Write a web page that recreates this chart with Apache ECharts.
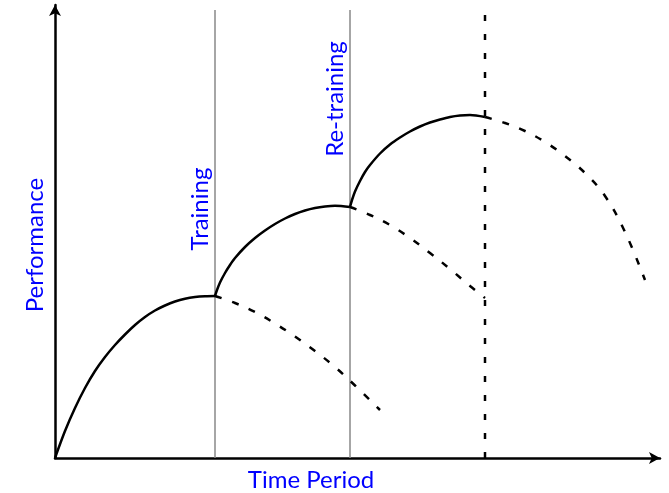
<!DOCTYPE html>
<html><head><meta charset="utf-8">
<script src="https://cdn.jsdelivr.net/npm/echarts@6/dist/echarts.min.js"></script>
<style>html,body{margin:0;padding:0;background:#fff}#c{width:669px;height:493px}</style>
</head><body><div id="c"></div>
<script>
// Values in arbitrary units (time vs performance)
const initialCurve = [[0,0],[10,27],[20,50],[30,70],[40,87],[50,101],[60,113],[70,123.5],[80,133],[90,141],[100,147.5],[110,152.5],[120,156.5],[130,159.3],[140,161],[150,161.8],[160,162]];
const trainingCurve = [[160,162],[162,168],[165,175.5],[170,185],[175,193],[180,200],[190,211],[200,220],[210,227.5],[220,234],[230,239.5],[240,244],[250,247.5],[260,250],[270,251.5],[280,252.2],[295,251]];
const retrainingCurve = [[295,251],[297,258],[300,266.5],[305,277],[310,286],[315,293],[325,304.5],[335,313.5],[345,320.5],[355,326.5],[365,331.5],[375,335.5],[385,338.5],[395,341],[405,342.5],[415,343],[430,341]];
const decay1 = [[160,162],[180,155],[200,146],[220,134.5],[240,121.5],[260,107],[280,91],[300,72.5],[325,48]];
const decay2 = [[295,251],[315,243],[335,233],[355,220],[375,205],[395,189],[415,172],[430,160]];
const decay3 = [[430,341],[450,335],[470,327],[490,316],[510,302],[530,285],[550,262],[570,226],[590,178]];
const trainingX = 160, retrainingX = 295, deployX = 430;
const lineTop = 448;
const labels = {x:'Time Period', y:'Performance', training:'Training', retraining:'Re-training'};

const chart = echarts.init(document.getElementById('c'));
const font = 'Lato, "Open Sans", sans-serif';
const blue = '#0000ff';
function solid(d){return {type:'line',data:d,smooth:0.3,symbol:'none',lineStyle:{color:'#000',width:2.5},z:5};}
function dashed(d){return {type:'line',data:d,smooth:0.4,symbol:'none',lineStyle:{color:'#000',width:2.5,type:[7,11]},z:5};}
function vline(x,color,width,type){return {type:'line',data:[[x,0],[x,lineTop]],symbol:'none',lineStyle:{color:color,width:width,type:type},z:3};}
chart.setOption({
  animation:false,
  grid:{left:55,right:9,top:5,bottom:35,outerBoundsMode:'none',containLabel:false},
  xAxis:{type:'value',min:0,max:605,
    axisLine:{show:true,symbol:['none','arrow'],symbolSize:[9,11],lineStyle:{color:'#000',width:2.5}},
    axisTick:{show:false},axisLabel:{show:false},splitLine:{show:false}},
  yAxis:{type:'value',min:0,max:453,
    axisLine:{show:true,symbol:['none','arrow'],symbolSize:[9,11],lineStyle:{color:'#000',width:2.5}},
    axisTick:{show:false},axisLabel:{show:false},splitLine:{show:false}},
  series:[
    vline(trainingX,'#888',1.5,'solid'),
    vline(retrainingX,'#888',1.5,'solid'),
    vline(deployX,'#000',2.5,[6,13]),
    solid(initialCurve),solid(trainingCurve),solid(retrainingCurve),
    dashed(decay1),dashed(decay2),dashed(decay3)
  ]
});
const p1 = chart.convertToPixel({gridIndex:0},[145,249]);
const p2 = chart.convertToPixel({gridIndex:0},[280,359]);
const px = chart.convertToPixel({gridIndex:0},[256,0]);
const py = chart.convertToPixel({gridIndex:0},[0,213]);
function txt(t,x,y,rot){return {type:'text',x:x,y:y,rotation:rot?Math.PI/2:0,style:{text:t,fill:blue,font:'24px '+font,align:'center',verticalAlign:'middle'}};}
chart.setOption({graphic:[
  txt(labels.training,p1[0],p1[1],true),
  txt(labels.retraining,p2[0],p2[1],true),
  txt(labels.x,px[0],px[1]+22,false),
  txt(labels.y,py[0]-20,py[1],true)
]});
</script></body></html>
